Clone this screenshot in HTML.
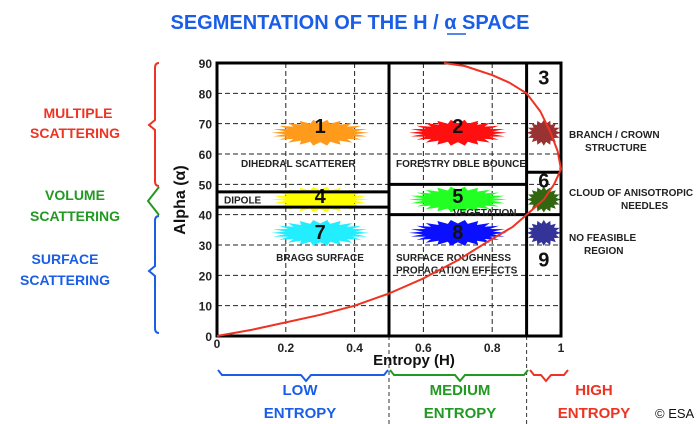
<!DOCTYPE html>
<html><head><meta charset="utf-8"><style>
body{margin:0;background:#fff;}
svg{display:block;font-family:"Liberation Sans",sans-serif;}
</style></head><body>
<svg id="c" width="700" height="424" viewBox="0 0 700 424"></svg>
<script>
const xTicks=[0,0.2,0.4,0.6,0.8,1];
const xTickLabels=["0","0.2","0.4","0.6","0.8","1"];
const yTicks=[0,10,20,30,40,50,60,70,80,90];
const curveH=[0,0.1,0.2,0.3,0.4,0.5,0.6,0.7,0.8,0.86,0.9,0.95,0.98,1.0,0.99,0.97,0.94,0.9,0.85,0.8,0.72,0.66];
const curveA=[0,2,4.5,7,10,14,19,25,32,36,40,45,50,55,61,67,74,80,83.5,86,89,90];
const zoneNums=["1","2","3","4","5","6","7","8","9"];
const zoneH=[0.3,0.7,0.95,0.3,0.7,0.95,0.3,0.7,0.95];
const zoneA=[68,68,84,45,45,50,33,33,24];
const starH=[0.3,0.7,0.95,0.3,0.7,0.95,0.3,0.7,0.95];
const starA=[67,67,67,45,45,45,34,34,34];
const starColors=["#ff9a1a","#ff1010","#993333","#ffff00","#22ff22","#336611","#22eeff","#0a10ff","#333399"];
const NS="http://www.w3.org/2000/svg";
const svg=document.getElementById('c');
const X0=217,X1=561,Y0=336,Y1=63;
const sx=h=>X0+(X1-X0)*h;
const sy=a=>Y0-(Y0-Y1)*a/90;
function el(t,at,txt){const e=document.createElementNS(NS,t);for(const k in at)e.setAttribute(k,at[k]);if(txt!=null)e.textContent=txt;svg.appendChild(e);return e;}
let t=el('text',{x:350,y:29,'text-anchor':'middle','font-size':20,'font-weight':'bold',fill:'#1a5ee8'},'SEGMENTATION OF THE H / α  SPACE');


el('line',{x1:447,y1:34,x2:466,y2:34,stroke:'#1a5ee8','stroke-width':1.5});
for(const v of yTicks){if(v===0||v===90)continue;const g=el('line',{x1:X0,x2:X1,y1:sy(v),y2:sy(v),stroke:'#222','stroke-dasharray':'5,3','stroke-width':1});

}
for(const v of xTicks){if(v===0||v===1)continue;const g=el('line',{x1:sx(v),x2:sx(v),y1:Y1,y2:Y0,stroke:'#222','stroke-dasharray':'5,3','stroke-width':1});

}
for(const v of [0.5,0.9]){el('line',{x1:sx(v),x2:sx(v),y1:Y0,y2:424,stroke:'#333','stroke-dasharray':'4,3','stroke-width':1});}
function star(cx,cy,w,h,col,n){let p=[];const N=n;for(let i=0;i<2*N;i++){const ang=Math.PI*i/N;const r=i%2?0.72:1;let rx=w/2*r,ry=h/2*r;p.push((cx+rx*Math.cos(ang)).toFixed(1)+','+(cy+ry*Math.sin(ang)).toFixed(1));}return el('polygon',{points:p.join(' '),fill:col});}
for(let i=0;i<9;i++){const big=i%3!==2;const s=star(sx(starH[i]),sy(starA[i]),big?98:34,26,starColors[i],big?22:16);

}
for(let i=0;i<9;i++){const n=el('text',{x:sx(zoneH[i]),y:sy(zoneA[i])-2,'text-anchor':'middle','font-size':20,'font-weight':'bold',fill:'#111','dominant-baseline':'middle'},zoneNums[i]);

}
const B=(x1,y1,x2,y2)=>el('line',{x1:sx(x1),y1:sy(y1),x2:sx(x2),y2:sy(y2),stroke:'#000','stroke-width':3});
const fr=el('rect',{x:X0,y:Y1,width:X1-X0,height:Y0-Y1,fill:'none',stroke:'#000','stroke-width':3});


B(0.5,0,0.5,90);B(0.9,0,0.9,90);
B(0,47.5,0.5,47.5);B(0,42.5,0.5,42.5);
B(0.5,50,0.9,50);B(0.5,40,0.9,40);
B(0.9,54,1,54);B(0.9,40,1,40);
const zl=[[241,57,'DIHEDRAL SCATTERER','start'],[396,57,'FORESTRY DBLE BOUNCE','start'],[224,45,'DIPOLE','start'],[453,40.8,'VEGETATION','start'],[320,26,'BRAGG SURFACE','middle'],[396,26,'SURFACE ROUGHNESS','start'],[396,22,'PROPAGATION EFFECTS','start']];
zl.forEach(z=>{const e=el('text',{x:z[0],y:sy(z[1])+4,'text-anchor':z[3],'font-size':10,'font-weight':'bold',fill:'#222'},z[2]);

});
let d='';curveH.forEach((h,i)=>{d+=(i?'L':'M')+sx(h).toFixed(1)+','+sy(curveA[i]).toFixed(1);});
const cv=el('path',{d:d,fill:'none',stroke:'#ee3322','stroke-width':2,'stroke-linejoin':'round'});


yTicks.forEach(v=>{const e=el('text',{x:212,y:sy(v)+5,'text-anchor':'end','font-size':12,'font-weight':'bold',fill:'#222'},String(v));

});
xTicks.forEach((v,i)=>{const e=el('text',{x:sx(v),y:v===0?348:352,'text-anchor':'middle','font-size':12,'font-weight':'bold',fill:'#222'},xTickLabels[i]);

});
let xa=el('text',{x:414,y:365,'text-anchor':'middle','font-size':15,'font-weight':'bold',fill:'#111'},'Entropy (H)');


let ya=el('text',{x:0,y:0,'text-anchor':'middle','font-size':16,'font-weight':'bold',fill:'#111',transform:'translate(185,200) rotate(-90)'},'Alpha (α)');


const rl=[[569,138,'BRANCH / CROWN'],[585,151,'STRUCTURE'],[569,196,'CLOUD OF ANISOTROPIC'],[621,209,'NEEDLES'],[569,241,'NO FEASIBLE'],[584,254,'REGION']];
rl.forEach(r=>{const e=el('text',{x:r[0],y:r[1],'font-size':10,'font-weight':'bold',fill:'#222','text-anchor':'start'},r[2]);

});
function brace(x,y1,ym,y2,col,name){const p=el('path',{d:`M${x+4},${y1} Q${x},${y1} ${x},${y1+5} L${x},${ym-5} L${x-6},${ym} L${x},${ym+5} L${x},${y2-5} Q${x},${y2} ${x+4},${y2}`,fill:'none',stroke:col,'stroke-width':2});

}
brace(155,63,125,186,'#ee3322','multiple-brace');
const gp=el('path',{d:'M159,187 L148,201 L159,215',fill:'none',stroke:'#229922','stroke-width':2});


brace(155,216,271,333,'#1a5ee8','surface-brace');
const ll=[[78,118,'MULTIPLE','#ee3322'],[75,138,'SCATTERING','#ee3322'],[75,200,'VOLUME','#229922'],[75,221,'SCATTERING','#229922'],[65,264,'SURFACE','#1a5ee8'],[65,285,'SCATTERING','#1a5ee8']];
ll.forEach(l=>{const e=el('text',{x:l[0],y:l[1],'text-anchor':'middle','font-size':14,'font-weight':'bold',fill:l[3]},l[2]);

});
function hbrace(x1,xm,x2,y,col,name){const p=el('path',{d:`M${x1},${y} L${x1+4},${y+5} L${xm-5},${y+5} L${xm},${y+11} L${xm+5},${y+5} L${x2-4},${y+5} L${x2},${y}`,fill:'none',stroke:col,'stroke-width':2});

}
hbrace(218,306,388,370,'#1a5ee8','low-brace');
hbrace(390,460,528,370,'#229922','medium-brace');
hbrace(530,546,568,370,'#ee3322','high-brace');
const bl=[[300,395,'LOW','#1a5ee8'],[300,418,'ENTROPY','#1a5ee8'],[460,395,'MEDIUM','#229922'],[460,418,'ENTROPY','#229922'],[594,395,'HIGH','#ee3322'],[594,418,'ENTROPY','#ee3322']];
bl.forEach(l=>{const e=el('text',{x:l[0],y:l[1],'text-anchor':'middle','font-size':15,'font-weight':'bold',fill:l[3]},l[2]);

});
const cp=el('text',{x:655,y:418,'font-size':13,fill:'#111'},'© ESA');


</script>
</body></html>
